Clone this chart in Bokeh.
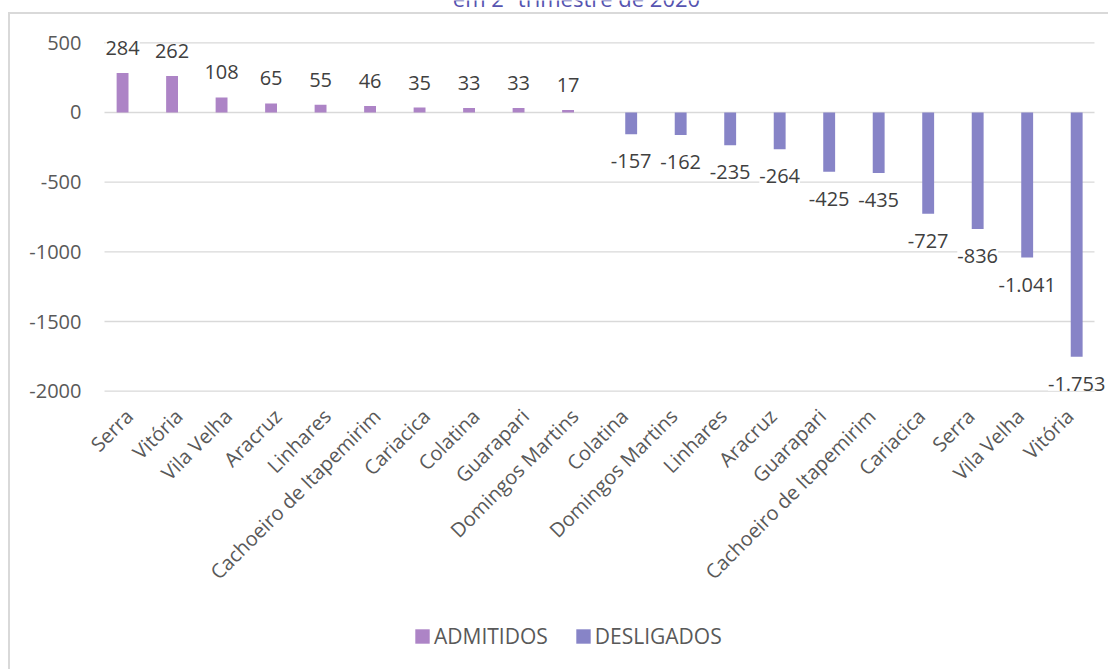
from bokeh.plotting import figure
from bokeh.layouts import column
from bokeh.models import FixedTicker, Legend, LegendItem, ColumnDataSource
from bokeh.transform import dodge
from bokeh.core.properties import value
from bokeh.embed import file_html
from bokeh.resources import INLINE
import math

# Saldo por município, 2º trimestre de 2020
admitidos_cidades = ["Serra", "Vitória", "Vila Velha", "Aracruz", "Linhares",
                     "Cachoeiro de Itapemirim", "Cariacica", "Colatina",
                     "Guarapari", "Domingos Martins"]
admitidos = [284, 262, 108, 65, 55, 46, 35, 33, 33, 17]

desligados_cidades = ["Colatina", "Domingos Martins", "Linhares", "Aracruz",
                      "Guarapari", "Cachoeiro de Itapemirim", "Cariacica",
                      "Serra", "Vila Velha", "Vitória"]
desligados = [-157, -162, -235, -264, -425, -435, -727, -836, -1041, -1753]

y_ticks = [500, 0, -500, -1000, -1500, -2000]
titulo = "em 2º trimestre de 2020"

FONT = "Open Sans"
C_ADM = "#AD84C6"
C_DES = "#8784C7"
GRID = "#D9D9D9"
AXIS_TXT = "#595959"
LABEL_TXT = "#404040"


def fmt(v):
    return f"{v:,}".replace(",", ".")


n_adm = len(admitidos)
cidades = admitidos_cidades + desligados_cidades
pos = list(range(len(cidades)))

src_adm = ColumnDataSource(dict(x=pos[:n_adm], y=admitidos,
                                txt=[fmt(v) for v in admitidos]))
src_des = ColumnDataSource(dict(x=pos[n_adm:], y=desligados,
                                txt=[fmt(v) for v in desligados]))

# scale: 49.5 px per category, 0.13936 px per unit on y
x_start, x_end = -0.5 - 16 / 49.5, len(cidades) - 0.5 + 14 / 49.5
y_end = 500 + 42.3 / 0.13936
y_start = -2000 - 9.3 / 0.13936

p = figure(width=1108, height=600, output_backend="svg", toolbar_location=None,
           x_range=(x_start, x_end), y_range=(y_start, y_end),
           min_border_left=88, min_border_right=0, min_border_top=0,
           min_border_bottom=200, outline_line_color=None,
           border_fill_color=None, background_fill_color=None)
p.xgrid.visible = False
p.ygrid.visible = False

# horizontal gridlines across the category band
p.segment(x0=[-0.5] * len(y_ticks), x1=[len(cidades) - 0.5] * len(y_ticks),
          y0=y_ticks, y1=y_ticks, line_color=GRID, line_width=1.3)

w = 0.24
r_adm = p.vbar(x=dodge("x", -0.135, range=p.x_range), top="y", bottom=0,
               width=w, source=src_adm, fill_color=C_ADM, line_color=None)
r_des = p.vbar(x=dodge("x", 0.14, range=p.x_range), top="y", bottom=0,
               width=w, source=src_des, fill_color=C_DES, line_color=None)

p.text(x=dodge("x", -0.135, range=p.x_range), y="y", text="txt", source=src_adm,
       text_font=value(FONT), text_font_size="20px", text_color=LABEL_TXT,
       text_align="center", text_baseline="middle", y_offset=-25,
       background_fill_color="white")
p.text(x=dodge("x", 0.14, range=p.x_range), y="y", text="txt", source=src_des,
       text_font=value(FONT), text_font_size="20px", text_color=LABEL_TXT,
       text_align="center", text_baseline="middle", y_offset=27,
       background_fill_color="white")

# chart title (second line, at the top edge)
p.text(x=[-0.5 + (576 - 104) / 49.5], y=[y_end], text=[titulo],
       text_font=value(FONT), text_font_size="22px", text_color="#5654B0",
       text_align="center", text_baseline="alphabetic", y_offset=-3)

# axes
p.yaxis.ticker = FixedTicker(ticks=y_ticks)
p.yaxis.major_label_overrides = {t: str(t) for t in y_ticks}
p.yaxis.axis_line_color = None
p.yaxis.major_tick_line_color = None
p.yaxis.minor_tick_line_color = None
p.yaxis.major_tick_out = 0
p.yaxis.major_tick_in = 0
p.yaxis.major_label_standoff = 7
p.yaxis.major_label_text_font = FONT
p.yaxis.major_label_text_font_size = "20px"
p.yaxis.major_label_text_color = AXIS_TXT

p.xaxis.ticker = FixedTicker(ticks=pos)
p.xaxis.major_label_overrides = {i: c for i, c in zip(pos, cidades)}
p.xaxis.major_label_orientation = math.pi / 4
p.xaxis.axis_line_color = None
p.xaxis.major_tick_line_color = None
p.xaxis.minor_tick_line_color = None
p.xaxis.major_tick_out = 0
p.xaxis.major_tick_in = 0
p.xaxis.major_label_standoff = 12
p.xaxis.major_label_text_font = FONT
p.xaxis.major_label_text_font_size = "20px"
p.xaxis.major_label_text_color = AXIS_TXT

# legend strip: same series styles, plotted outside its visible range
lg = figure(width=1108, height=69, output_backend="svg", toolbar_location=None,
            x_range=(0, 1), y_range=(10000, 10001), x_axis_type=None,
            y_axis_type=None, min_border=0, outline_line_color=None,
            border_fill_color=None, background_fill_color=None)
lg.xgrid.visible = False
lg.ygrid.visible = False
l_adm = lg.vbar(x="x", top="y", bottom=0, width=w, source=src_adm,
                fill_color=C_ADM, line_color=None)
l_des = lg.vbar(x="x", top="y", bottom=0, width=w, source=src_des,
                fill_color=C_DES, line_color=None)
legend = Legend(items=[LegendItem(label="ADMITIDOS", renderers=[l_adm]),
                       LegendItem(label="DESLIGADOS", renderers=[l_des])],
                orientation="horizontal", location=(325, 19),
                glyph_width=18, glyph_height=18, label_standoff=3, spacing=26,
                label_text_font=FONT, label_text_font_size="21px",
                label_text_color=AXIS_TXT, border_line_color=None,
                background_fill_alpha=0, margin=0, padding=4)
lg.add_layout(legend)

# chart area frame lines (top and left edges)
frame_css = {
    "background-color": "white",
    "background-image": "linear-gradient(#D9D9D9, #D9D9D9), "
                        "linear-gradient(#D9D9D9, #D9D9D9)",
    "background-size": "1099px 2px, 2px 660px",
    "background-position": "9px 12px, 8px 12px",
    "background-repeat": "no-repeat",
}
layout = column(p, lg, spacing=0, styles=frame_css)

open("out.html", "w").write(file_html(layout, INLINE))
